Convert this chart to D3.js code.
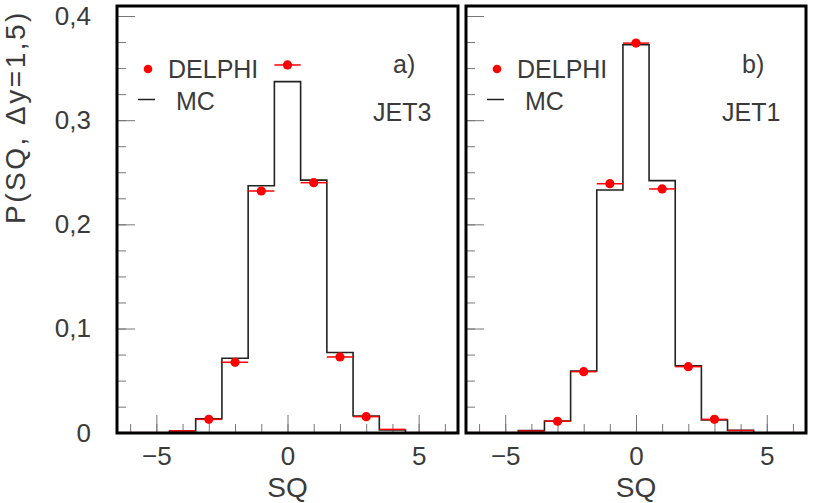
<!DOCTYPE html>
<html><head><meta charset="utf-8">
<script src="https://cdn.jsdelivr.net/npm/d3@7"></script>
<style>
html,body{margin:0;padding:0;background:#fff;}
text{font-family:"Liberation Sans",Arial,sans-serif;}
</style></head>
<body>
<svg id="c" width="813" height="503"></svg>
<script>
// ---- data ----
const bins = [-6,-5,-4,-3,-2,-1,0,1,2,3,4,5,6];
const mcJet3     = [0,0,0.0017,0.0134,0.0714,0.237,0.337,0.2425,0.077,0.016,0.0026,0,0];
const delphiJet3 = [0,0,0.0017,0.0128,0.0676,0.232,0.353,0.240,0.0727,0.0154,0.0032,0,0];
const mcJet1     = [0,0,0.002,0.0112,0.0592,0.233,0.3724,0.242,0.0643,0.0122,0.0023,0,0];
const delphiJet1 = [0,0,0.0016,0.011,0.0586,0.239,0.374,0.234,0.0634,0.0128,0.002,0,0];
const xMajorTicks = [-5,0,5];
const xMinorTicks = [-6,-5,-4,-3,-2,-1,0,1,2,3,4,5,6];
const yMajorTicks = [0,0.1,0.2,0.3,0.4];
const yMinorTicks = [0,0.025,0.05,0.075,0.1,0.125,0.15,0.175,0.2,0.225,0.25,0.275,0.3,0.325,0.35,0.375,0.4];
const panels = [
  {tag:"a)", jet:"JET3", mc:mcJet3, data:delphiJet3},
  {tag:"b)", jet:"JET1", mc:mcJet1, data:delphiJet1}
];
const legendLabels = ["DELPHI","MC"];
const xTitle = "SQ";
const yTitle = "P(SQ, \u0394y=1,5)";

// ---- layout ----
const svg = d3.select("#c");
const yTop = 6, yBot = 433;
const y = d3.scaleLinear().domain([0,0.4]).range([432.7,16]);
const xRanges = [[117,458],[466,806]];
const textStyle = s => s.attr("fill","#3a3a3a").attr("stroke","none");
const fmt = d => d===0 ? "0" : d3.format(".1f")(d).replace(".",",");

panels.forEach((p,pi)=>{
  const x = d3.scaleLinear().domain([-6.5,6.5]).range(xRanges[pi]);
  const g = svg.append("g");

  // ticks
  const tickCol = "#777";
  const xMin = g.append("g").attr("transform",`translate(0,${yBot})`)
    .call(d3.axisBottom(x).tickValues(xMinorTicks).tickSize(-9).tickFormat(""));
  const xMaj = g.append("g").attr("transform",`translate(0,${yBot})`)
    .call(d3.axisBottom(x).tickValues(xMajorTicks).tickSize(-18).tickPadding(14)
      .tickFormat(d=> d<0 ? "\u2212"+Math.abs(d) : String(d)));
  const yMin = g.append("g").attr("transform",`translate(${xRanges[pi][0]},0)`)
    .call(d3.axisLeft(y).tickValues(yMinorTicks).tickSize(-9).tickFormat(""));
  const yMaj = g.append("g").attr("transform",`translate(${xRanges[pi][0]},0)`)
    .call(d3.axisLeft(y).tickValues(yMajorTicks).tickSize(-18).tickPadding(26)
      .tickFormat(pi===0 ? fmt : ""));
  [xMin,xMaj,yMin,yMaj].forEach(a=>{
    a.select(".domain").remove();
    a.selectAll(".tick line").attr("stroke",tickCol).attr("stroke-width",1);
    a.selectAll("text").attr("font-size",26).attr("font-family","'Liberation Sans',Arial,sans-serif").call(textStyle);
  });

  // MC histogram
  const edges = bins.map((b,i)=>({x:b-0.5,v:p.mc[i]}));
  edges.push({x:bins[bins.length-1]+0.5, v:p.mc[p.mc.length-1]});
  g.append("path").datum(edges)
    .attr("d", d3.line().x(d=>x(d.x)).y(d=>y(d.v)).curve(d3.curveStepAfter))
    .attr("fill","none").attr("stroke","#222").attr("stroke-width",1.6);

  // DELPHI points
  const pts = bins.map((b,i)=>({x:b,v:p.data[i]}));
  g.selectAll(".eb").data(pts).join("line")
    .attr("x1",d=>x(d.x-0.5)).attr("x2",d=>x(d.x+0.5))
    .attr("y1",d=>y(d.v)).attr("y2",d=>y(d.v))
    .attr("stroke","#f00").attr("stroke-width",1.5);
  g.selectAll(".dot").data(pts.filter(d=>d.v>0.005)).join("circle")
    .attr("cx",d=>x(d.x)).attr("cy",d=>y(d.v)).attr("r",4.6).attr("fill","#f00");

  // frame
  g.append("rect").attr("x",xRanges[pi][0]).attr("y",yTop)
    .attr("width",xRanges[pi][1]-xRanges[pi][0]).attr("height",yBot-yTop)
    .attr("fill","none").attr("stroke","#000").attr("stroke-width",3);

  // legend
  const lx = xRanges[pi][0];
  g.append("circle").attr("cx",lx+31).attr("cy",69).attr("r",4.3).attr("fill","#f00");
  g.append("text").attr("x",lx+51).attr("y",69).attr("dy","0.36em")
    .attr("font-size",25).text(legendLabels[0]).call(textStyle);
  g.append("line").attr("x1",lx+21).attr("x2",lx+38).attr("y1",99.5).attr("y2",99.5)
    .attr("stroke","#222").attr("stroke-width",1.5);
  g.append("text").attr("x",lx+59).attr("y",101).attr("dy","0.36em")
    .attr("font-size",25).text(legendLabels[1]).call(textStyle);

  // labels
  g.append("text").attr("x",lx+276).attr("y",64).attr("dy","0.36em")
    .attr("font-size",25).text(p.tag).call(textStyle);
  g.append("text").attr("x",lx+256).attr("y",112).attr("dy","0.36em")
    .attr("font-size",25).text(p.jet).call(textStyle);

  // x title
  g.append("text").attr("x",x(0)).attr("y",487).attr("dy","0.36em")
    .attr("text-anchor","middle").attr("font-size",28).text(xTitle).call(textStyle);
});

// y title
svg.append("text").attr("transform","translate(15,117) rotate(-90)")
  .attr("dy","0.36em").attr("text-anchor","middle").attr("font-size",28)
  .attr("letter-spacing",2.5)
  .text(yTitle).call(textStyle);
</script>
</body></html>
